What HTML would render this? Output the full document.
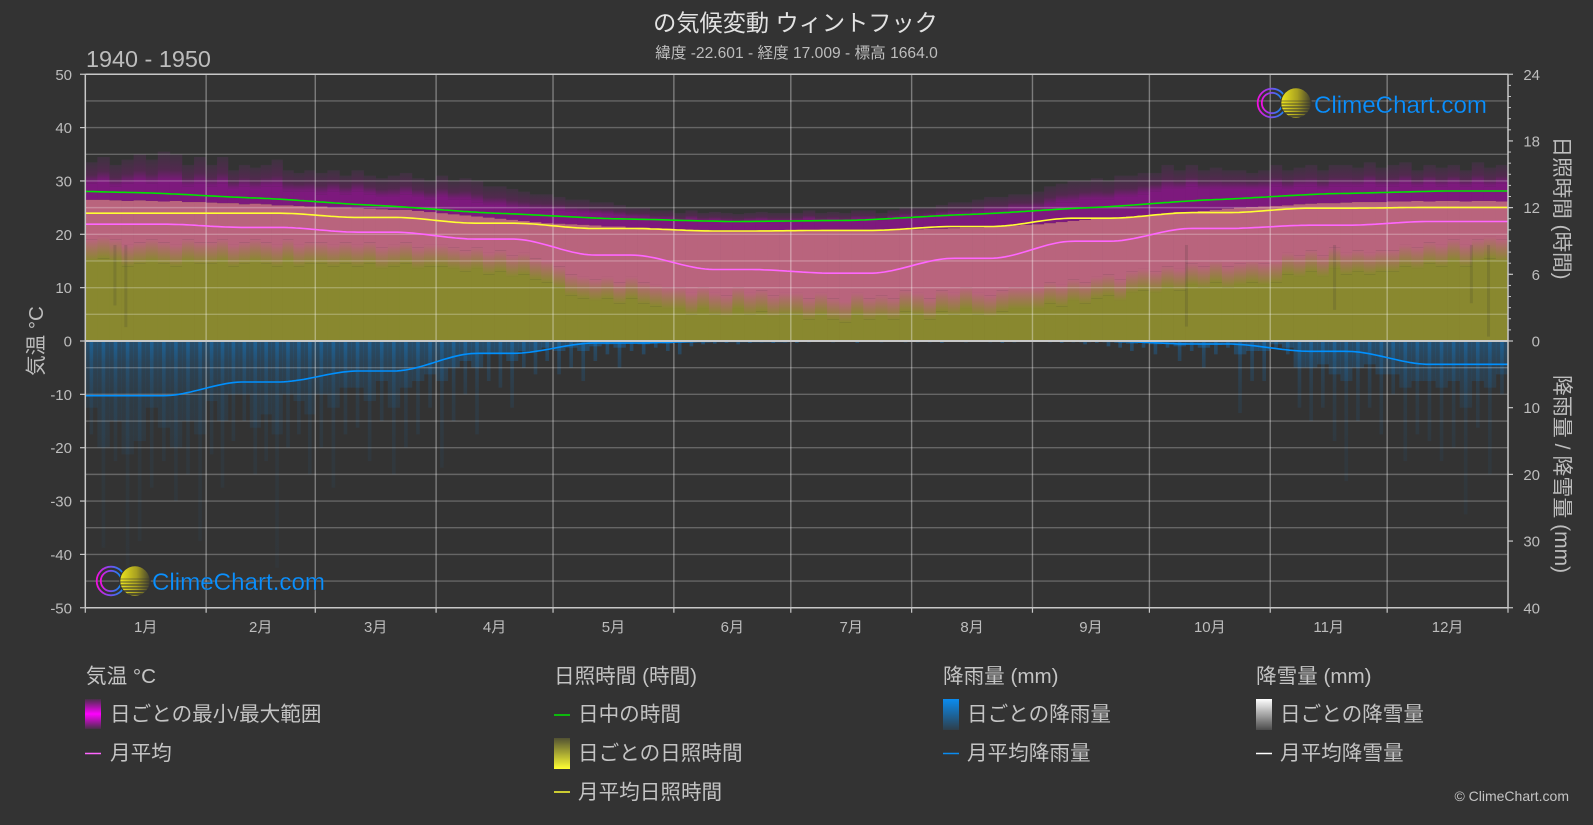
<!DOCTYPE html>
<html lang="ja">
<head>
<meta charset="utf-8">
<title>の気候変動 ウィントフック</title>
<style>
html,body{margin:0;padding:0;background:#333333;}
svg{display:block;font-family:"Liberation Sans","Noto Sans CJK JP",sans-serif;}
.tick{fill:#bdbdbd;font-size:15px;}
.leg{fill:#c4c4c4;font-size:20.6px;}
.logo-text{fill:#0a90ff;font-size:24px;stroke:#333333;stroke-width:.2;paint-order:fill;}
</style>
</head>
<body>
<svg id="chart" width="1593" height="825" viewBox="0 0 1593 825" xmlns="http://www.w3.org/2000/svg">
<defs>
  <linearGradient id="bandGrad" x1="0" y1="1" x2="0" y2="0"><stop offset="0" stop-color="#89882f"/><stop offset="1" stop-color="#b9647d"/></linearGradient>
  <linearGradient id="dimGrad" x1="0" y1="1" x2="0" y2="0"><stop offset="0" stop-color="#7d197d"/><stop offset=".4" stop-color="#52294f"/><stop offset="1" stop-color="#3f3340"/></linearGradient>
  <linearGradient id="rainGrad" gradientUnits="userSpaceOnUse" x1="0" y1="341" x2="0" y2="608">
    <stop offset="0" stop-color="#0a8cf0" stop-opacity=".3"/>
    <stop offset=".08" stop-color="#0a8cf0" stop-opacity=".18"/>
    <stop offset=".2" stop-color="#0a8cf0" stop-opacity=".1"/>
    <stop offset=".45" stop-color="#0a8cf0" stop-opacity=".055"/>
    <stop offset="1" stop-color="#0a8cf0" stop-opacity=".03"/>
  </linearGradient>
  <linearGradient id="swTemp" x1="0" y1="0" x2="0" y2="1"><stop offset="0" stop-color="#ff00ff" stop-opacity=".1"/><stop offset=".5" stop-color="#ff00ff"/><stop offset="1" stop-color="#ff00ff" stop-opacity=".1"/></linearGradient>
  <linearGradient id="swSun" x1="0" y1="0" x2="0" y2="1"><stop offset="0" stop-color="#ffff33" stop-opacity=".15"/><stop offset="1" stop-color="#ffff33"/></linearGradient>
  <linearGradient id="swRain" x1="0" y1="0" x2="0" y2="1"><stop offset="0" stop-color="#0a8cf0"/><stop offset="1" stop-color="#0a8cf0" stop-opacity=".12"/></linearGradient>
  <linearGradient id="swSnow" x1="0" y1="0" x2="0" y2="1"><stop offset="0" stop-color="#ffffff"/><stop offset="1" stop-color="#ffffff" stop-opacity=".12"/></linearGradient>
  <linearGradient id="ringGrad" x1="0" y1="0" x2="1" y2="0"><stop offset="0" stop-color="#f010e0"/><stop offset=".6" stop-color="#5a60f0"/><stop offset="1" stop-color="#0a8cf0"/></linearGradient>
  <linearGradient id="sunGrad" x1="0" y1="0" x2="1" y2="0"><stop offset="0" stop-color="#ece41e"/><stop offset=".55" stop-color="#a8a020"/><stop offset="1" stop-color="#44422e"/></linearGradient>
  <clipPath id="sunClip"><circle cx="24" cy="0" r="14.7"/></clipPath>
  <g id="logoMark">
    <circle cx="0" cy="0" r="14.3" fill="none" stroke="url(#ringGrad)" stroke-width="1.8"/>
    <circle cx="0" cy="0" r="10.2" fill="none" stroke="url(#ringGrad)" stroke-width="1.8"/>
    <circle cx="24" cy="0" r="15.8" fill="#333333"/>
    <circle cx="24" cy="0" r="14.7" fill="url(#sunGrad)"/>
    <g clip-path="url(#sunClip)" stroke="#333333">
      <path d="M8 -2H40" stroke-width=".5"/><path d="M8 1H40" stroke-width=".7"/><path d="M8 4H40" stroke-width=".9"/>
      <path d="M8 7H40" stroke-width="1.1"/><path d="M8 10H40" stroke-width="1.4"/><path d="M8 13H40" stroke-width="1.6"/>
    </g>
  </g>
</defs>

<rect x="0" y="0" width="1593" height="825" fill="#333333"/>

<g id="marks"></g>
<g id="grid"></g>
<g id="lines"></g>
<g id="axes"></g>

<g>
  <use href="#logoMark" transform="translate(1272,103)"/>
  <text class="logo-text" x="1314" y="113" textLength="173" lengthAdjust="spacingAndGlyphs">ClimeChart.com</text>
</g>
<g>
  <use href="#logoMark" transform="translate(111,581)"/>
  <text class="logo-text" x="152" y="590" textLength="173" lengthAdjust="spacingAndGlyphs">ClimeChart.com</text>
</g>

<text x="795.5" y="31" text-anchor="middle" font-size="23.2" fill="#e2e2e2">の気候変動 ウィントフック</text>
<text x="796.5" y="58" text-anchor="middle" font-size="15.6" fill="#bdbdbd">緯度 -22.601 - 経度 17.009 - 標高 1664.0</text>
<text x="86" y="67" font-size="23.4" fill="#bdbdbd">1940 - 1950</text>

<text transform="translate(43,341) rotate(-90)" text-anchor="middle" font-size="20.5" fill="#bdbdbd">気温 °C</text>
<text transform="translate(1555,208) rotate(90)" text-anchor="middle" font-size="20.6" fill="#bdbdbd">日照時間 (時間)</text>
<text transform="translate(1555,474) rotate(90)" text-anchor="middle" font-size="21" fill="#bdbdbd">降雨量 / 降雪量 (mm)</text>

<g>
  <text class="leg" x="86" y="683">気温 °C</text>
  <rect x="85" y="699" width="16" height="30" fill="url(#swTemp)"/>
  <text class="leg" x="110" y="721">日ごとの最小/最大範囲</text>
  <line x1="85" x2="101" y1="753.5" y2="753.5" stroke="#ff66ff" stroke-width="1.5"/>
  <text class="leg" x="110" y="760">月平均</text>
</g>
<g>
  <text class="leg" x="554" y="683">日照時間 (時間)</text>
  <line x1="554" x2="570" y1="715" y2="715" stroke="#00e600" stroke-width="1.5"/>
  <text class="leg" x="578" y="721">日中の時間</text>
  <rect x="554" y="738" width="16" height="31" fill="url(#swSun)"/>
  <text class="leg" x="578" y="760">日ごとの日照時間</text>
  <line x1="554" x2="570" y1="792" y2="792" stroke="#ffff33" stroke-width="1.5"/>
  <text class="leg" x="578" y="799">月平均日照時間</text>
</g>
<g>
  <text class="leg" x="943" y="683">降雨量 (mm)</text>
  <rect x="943" y="699" width="16" height="31" fill="url(#swRain)"/>
  <text class="leg" x="967" y="721">日ごとの降雨量</text>
  <line x1="943" x2="959" y1="753.5" y2="753.5" stroke="#0a8cf0" stroke-width="1.5"/>
  <text class="leg" x="967" y="760">月平均降雨量</text>
</g>
<g>
  <text class="leg" x="1256" y="683">降雪量 (mm)</text>
  <rect x="1256" y="699" width="16" height="31" fill="url(#swSnow)"/>
  <text class="leg" x="1280" y="721">日ごとの降雪量</text>
  <line x1="1256" x2="1272" y1="753.5" y2="753.5" stroke="#ffffff" stroke-width="1.5"/>
  <text class="leg" x="1280" y="760">月平均降雪量</text>
</g>
<text x="1569" y="801" text-anchor="end" font-size="14" fill="#c4c4c4">© ClimeChart.com</text>
</svg>

<script>
const monthLabels = ['1月','2月','3月','4月','5月','6月','7月','8月','9月','10月','11月','12月'];
const monthDays = [31,28,31,30,31,30,31,31,30,31,30,31];
const tempTicks = [50,40,30,20,10,0,-10,-20,-30,-40,-50];
const sunTicks = [24,18,12,6,0];
const rainTicks = [10,20,30,40];

// Monthly means
const meanTemp = [21.9,21.3,20.4,19.1,16.1,13.4,12.7,15.5,18.7,21.1,21.7,22.4];
const daylightHours = [13.33,12.85,12.2,11.5,11.0,10.75,10.85,11.4,12.0,12.7,13.25,13.5];
const meanSunshine = [11.5,11.5,11.12,10.6,10.12,9.9,9.95,10.3,11.05,11.55,11.95,12.02];
const meanRain = [8.2,6.15,4.5,1.85,0.3,0.05,0.02,0.02,0.03,0.45,1.55,3.5];
const meanSnow = [0,0,0,0,0,0,0,0,0,0,0,0];

// Ten samples per month
const tempPeak = [
33.5,34.5,33,34,35,34,35.5,35,33,34.5,
33,34.5,32,33,32.5,33,34,32,31.5,32,
31.5,32,31,32,31,30.5,31,31.5,30.5,30,
31,30,30.5,30,29,29,28.5,28,27.5,27.5,
27,26.5,26.5,26,26,25.5,25,25,24.5,24.5,
24,24.5,24,24.2,24,23.8,24,24.2,24,24,
24,24.5,24,24.2,24,24.5,24.5,24,24.5,25,
25,25,25.5,26,26,26.5,27,27,27.5,27.5,
28,29,29.5,30,30,30.5,30,31,31,31.5,
31.5,33,32,33,32,32.5,32,32,31.5,32,
33,32,32.5,33,32,33,33,32.5,33.5,32.5,
33,33.5,32,33,32.5,33,32,33.5,32.5,33];
const tempUpper = [
29.5,30,29,29.5,30,29.5,30,30,29,29.5,
29,29.5,28.5,29,28.5,29,29,28,28,28,
27.5,28,27.5,28,27.5,27,27,27.5,27,26.5,
27,26.5,26.5,26,25.5,25.5,25,24.8,24.6,24.5,
24.5,24.2,24,23.8,23.6,23.4,23.2,23.1,22.8,22.8,
22.5,22.8,22.5,22.6,22.4,22.3,22.5,22.6,22.4,22.4,
22.5,22.8,22.5,22.6,22.5,22.8,22.8,22.6,23,23.2,
23,23.3,23.5,23.8,23.8,24,24.4,24.4,24.8,24.8,
24.8,25.5,26,26,26.5,26.5,26.5,27,27,27.5,
28,28.5,28.5,29,28.5,28.5,28.5,28.5,28.5,28.5,
29,28.5,29,29,28.5,29,29,29,29.5,29,
29,29.5,29,29.5,29,29.5,29,29.5,29,29.5];
const sunshineTop = [
12.7,12.7,12.65,12.6,12.65,12.6,12.55,12.6,12.5,12.5,
12.45,12.4,12.4,12.3,12.35,12.3,12.2,12.2,12.15,12.1,
12.1,12.0,12.0,11.95,11.9,11.85,11.8,11.8,11.7,11.6,
11.5,11.4,11.3,11.2,11.1,11.0,10.9,10.8,10.7,10.6,
10.55,10.5,10.45,10.4,10.3,10.3,10.2,10.2,10.1,10.1,
10.05,10,10,9.95,9.95,9.9,9.9,9.9,9.95,9.95,
9.95,9.95,9.95,10,9.95,10,10,10,10,10.05,
10.05,10.1,10.1,10.15,10.2,10.2,10.3,10.3,10.4,10.45,
10.5,10.6,10.7,10.8,10.9,11,11.05,11.1,11.2,11.3,
11.4,11.5,11.6,11.6,11.7,11.8,11.9,12,12.05,12.1,
12.15,12.2,12.3,12.35,12.4,12.4,12.45,12.5,12.5,12.5,
12.55,12.55,12.6,12.55,12.6,12.6,12.55,12.6,12.6,12.55];
const tempLower = [
15,15.5,15,14,14.5,15,14.5,14,15,14.5,
14.5,15,14,14.5,15,14.5,14,15,14,14.5,
14.5,14,14.5,14,14.5,13.5,14,14.5,13.5,14,
14,13.5,13,13.5,12.5,13,12,12.5,11.5,11,
10,8.5,8,7.5,8,7,8,7,6.5,6,
6,5,6,5,4.5,6,5,5.5,4.5,5,
5,4,5,4,3.5,5,4,4.5,4,5.5,
5,4,5.5,5,6,5,4.5,5.5,6,6,
6,7,6.5,7.5,7,8,8.5,7.5,9,9.5,
9,10,9.5,10.5,10,11,10,10.5,11,10.5,
11,12.5,12,13,12,13.5,12.5,13,12.5,13,
13,14,13.5,14.5,14,15,14,15,15.5,15];
const rainPeak = [
14,31,18,34.5,30,22,18,24,20,30,
17,22,15,12,20,18,34,16,14,20,
16,22,14,13,18,12,20,16,14,10,
19,12,8,14,6,7,10,4,5,3,
5,4,6,3,2,4,1.5,2,1,1.5,
2,0.8,0.5,0.4,0.3,0.5,0.3,0.2,0.3,0.2,
0.3,0.2,0.1,0.2,0.1,0.3,0.1,0.2,0.1,0.2,
0.2,0.2,0.3,0.1,0.2,0.1,0.2,0.3,0.2,0.1,
0.1,0.2,0.3,0.2,0.5,0.3,0.8,1,1.5,1,
2,1,3,1.5,4,2,1,10.8,6,6,
1,2,10,12,10,15,21,12,10,14,
8,18,14,15,18,16,26,13,20,8];
const rainBase = [
10,16,12,17,15,10,13,16,12,14,
9,12,8,8,13,11,14,8,9,11,
8,10,7,7,9,6,10,7,6,5,
6,4,3,4,2,2,3,1.5,1.5,1,
1.5,1,1.5,0.8,0.5,1,0.4,0.5,0.3,0.4,
0.2,0.2,0.1,0.1,0.1,0.1,0.1,0.1,0.1,0.1,
0.1,0.1,0.1,0.1,0.1,0.1,0.1,0.1,0.1,0.1,
0.1,0.1,0.1,0.1,0.1,0.1,0.1,0.1,0.1,0.1,
0.1,0.1,0.1,0.1,0.2,0.1,0.2,0.3,0.4,0.3,
0.5,0.3,0.8,0.5,1,0.6,0.4,2,1.5,1.5,
0.5,1,4,4,3.5,5,6,4,3.5,5,
5,7,6,6,7,6,10,6,7,5];
// Individual days with very low sunshine (visible dark streaks)
const lowSunDays = [7.6,10.4,282.5,320.5,355.6,360];
const lowSunHours = [3.2,1.25,1.3,2.8,3.4,0.4];

const svgNS = 'http://www.w3.org/2000/svg';
const plotLeft = 85.3, plotRight = 1508, yZero = 341, pxPerDeg = 5.335;
const totalDays = monthDays.reduce((a,b)=>a+b,0);
function xDay(d){ return plotLeft + d*(plotRight-plotLeft)/totalDays; }
function yTemp(v){ return yZero - v*pxPerDeg; }
function ySun(h){ return yTemp(h*50/24); }
function yRain(mm){ return yTemp(-mm*50/40); }
function monthStart(m){ let s=0; for(let i=0;i<m;i++) s+=monthDays[i]; return s; }
function make(tag, attrs, parent){
  const el = document.createElementNS(svgNS, tag);
  for(const k in attrs) el.setAttribute(k, attrs[k]);
  parent.appendChild(el);
  return el;
}
function band(parent, name, x, w, y1, y2, fill){
  if(y2 <= y1) return;
  const el = make('rect', {x:x, y:y1, width:w, height:y2-y1, fill:fill}, parent);
  
  
}

const marks = document.getElementById('marks');
const fadeDeg = 4;
for(let i=0;i<sunshineTop.length;i++){
  const m = Math.floor(i/10), k = i%10;
  const x0 = xDay(monthStart(m)+k*monthDays[m]/10);
  const x1 = xDay(monthStart(m)+(k+1)*monthDays[m]/10);
  const w = x1-x0+0.3;
  const sunY = ySun(sunshineTop[i]);
  const lowY = yTemp(tempLower[i]);
  const fadeY = yTemp(tempLower[i]+fadeDeg);
  band(marks,'temp-peak-bar',x0,w,yTemp(tempPeak[i]),yTemp(tempUpper[i]),'url(#dimGrad)');
  band(marks,'temp-range-bar',x0,w,yTemp(tempUpper[i]),sunY,'#7d197d');
  band(marks,'temp-sun-overlap-bar',x0,w,sunY,fadeY,'#b9647d');
  band(marks,'temp-sun-fade-bar',x0,w,fadeY,lowY,'url(#bandGrad)');
  band(marks,'sunshine-bar',x0,w,lowY,yZero,'#89882f');
  band(marks,'rain-base-bar',x0,w,yZero,yRain(rainBase[i]),'url(#rainGrad)');
  band(marks,'rain-peak-bar',x0+(x1-x0)/2-1.8,3.6,yZero,yRain(rainPeak[i]),'url(#rainGrad)');
}
for(let i=0;i<lowSunDays.length;i++){
  const x = xDay(lowSunDays[i]);
  band(marks,'low-sunshine-day',x-1.5,3,yTemp(18),ySun(lowSunHours[i]),'rgba(51,51,51,.16)');
}

const grid = document.getElementById('grid');
for(let v=50;v>=-50;v-=5){
  if(v===50||v===0||v===-50) continue;
  const l = make('line',{x1:plotLeft,x2:plotRight,y1:yTemp(v),y2:yTemp(v),stroke:'rgba(255,255,255,.25)','stroke-width':1.4},grid);
  
  
}
for(let m=1;m<12;m++){
  const x = xDay(monthStart(m));
  const l = make('line',{x1:x,x2:x,y1:yTemp(50),y2:yTemp(-50),stroke:'rgba(255,255,255,.36)','stroke-width':1.4},grid);
  
  
}

// Monthly means are drawn as plateaus blending across month boundaries
function monthlyPath(values, toY, sharp, smoothLead){
  const centers = monthDays.map((d,m)=>monthStart(m)+d/2);
  const pts = [];
  for(let d=0;d<=totalDays;d+=1){
    let v;
    if(d<=centers[0]){
      v = values[0];
      if(smoothLead) v += (values[0]-values[1])*0.5*(centers[0]-d)/(centers[1]-centers[0]);
    }
    else if(d>=centers[11]) v = values[11];
    else {
      let i=0; while(d>centers[i+1]) i++;
      let t=(d-centers[i])/(centers[i+1]-centers[i]);
      if(smoothLead){
        t = 0.7*t+0.3*t*t*(3-2*t);
      } else {
        t = Math.max(0,Math.min(1,(t-sharp)/(1-2*sharp)));
        t = t*t*(3-2*t);
      }
      v = values[i]+(values[i+1]-values[i])*t;
    }
    pts.push(xDay(d).toFixed(1)+','+toY(v).toFixed(1));
  }
  return pts.join(' ');
}
const lines = document.getElementById('lines');
const meanSnowLine = make('polyline',{points:monthlyPath(meanSnow,yRain,0.15,false),fill:'none',stroke:'#ffffff','stroke-width':1.2},lines);


const meanRainLine = make('polyline',{points:monthlyPath(meanRain,yRain,0.15,false),fill:'none',stroke:'#0090ff','stroke-width':1.6},lines);


const meanTempLine = make('polyline',{points:monthlyPath(meanTemp,yTemp,0.15,false),fill:'none',stroke:'#ff66ff','stroke-width':1.6},lines);


const meanSunLine = make('polyline',{points:monthlyPath(meanSunshine,ySun,0.15,false),fill:'none',stroke:'#ffff33','stroke-width':1.6},lines);


const daylightLine = make('polyline',{points:monthlyPath(daylightHours,ySun,0,true),fill:'none',stroke:'#00e600','stroke-width':1.6},lines);



const axes = document.getElementById('axes');
const axisColor = '#c8c8c8';
function axisLine(name,x1,y1,x2,y2,w){
  const l = make('line',{x1:x1,y1:y1,x2:x2,y2:y2,stroke:axisColor,'stroke-width':w},axes);
  
  
}
function tickText(name,x,y,anchor,str){
  const t = make('text',{x:x,y:y,'text-anchor':anchor,class:'tick'},axes);
  
  
  t.textContent = str;
}
axisLine('plot-top-border',plotLeft,yTemp(50),plotRight,yTemp(50),1.5);
axisLine('plot-bottom-border',plotLeft,yTemp(-50),plotRight,yTemp(-50),1.5);
axisLine('zero-line',plotLeft,yZero,plotRight,yZero,2);
axisLine('left-axis-line',plotLeft,yTemp(50),plotLeft,yTemp(-50),1.5);
axisLine('right-axis-line',plotRight,yTemp(50),plotRight,yTemp(-50),1.5);
tempTicks.forEach(v=>{
  axisLine('left-axis-tick',80,yTemp(v),plotLeft,yTemp(v),1.2);
  tickText('left-axis-label',72,yTemp(v)+5.5,'end',String(v));
});
for(let h=0;h<24;h++){ axisLine('right-axis-minor-tick',plotRight,ySun(h),plotRight+3,ySun(h),1); }
sunTicks.forEach(h=>{
  axisLine('right-axis-tick',plotRight,ySun(h),plotRight+5,ySun(h),1.2);
  tickText('sunshine-axis-label',1540,ySun(h)+5.5,'end',String(h));
});
rainTicks.forEach(mm=>{
  axisLine('right-axis-tick',plotRight,yRain(mm),plotRight+5,yRain(mm),1.2);
  tickText('precipitation-axis-label',1540,yRain(mm)+5.5,'end',String(mm));
});
for(let m=0;m<=12;m++){
  const x = m===12 ? plotRight : xDay(monthStart(m));
  axisLine('month-boundary-tick',x,yTemp(-50),x,yTemp(-50)+5,1.2);
}
monthLabels.forEach((s,m)=>{
  tickText('month-label',xDay(monthStart(m)+monthDays[m]/2),632,'middle',s);
});
</script>
</body>
</html>
